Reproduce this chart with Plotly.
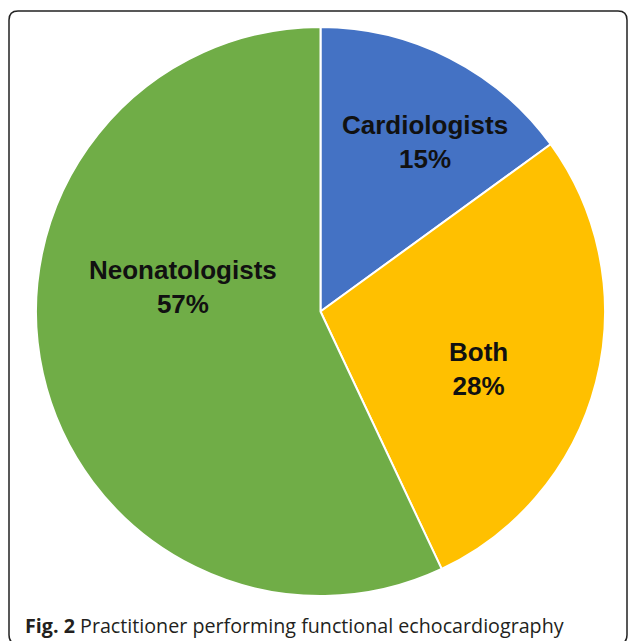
import plotly.graph_objects as go

# Data
labels = ["Cardiologists", "Both", "Neonatologists"]
values = [15, 28, 57]
colors = ["#4472C4", "#FFC000", "#70AD47"]
caption_bold = "Fig. 2"
caption_text = "Practitioner performing functional echocardiography"

W, H = 629, 641

def px(x):
    return x / W

def py(y):
    return 1 - y / H

# Pie geometry (pixels)
cx, cy, r = 320.5, 311.5, 284.5

fig = go.Figure()
fig.add_trace(go.Pie(
    labels=labels,
    values=values,
    marker=dict(colors=colors, line=dict(color="white", width=2)),
    sort=False,
    direction="clockwise",
    rotation=0,
    textinfo="none",
    hoverinfo="label+percent",
    domain=dict(x=[px(cx - r), px(cx + r)], y=[py(cy + r), py(cy - r)]),
    showlegend=False,
))

# Slice labels (positions in pixels)
label_pos = {"Cardiologists": (425, 142), "Both": (478, 369), "Neonatologists": (183, 287)}
total = sum(values)
for lab, val in zip(labels, values):
    x, y = label_pos[lab]
    fig.add_annotation(
        x=px(x), y=py(y), xref="paper", yref="paper",
        xanchor="center", yanchor="middle",
        text=f"<b>{lab}<br>{round(100 * val / total)}%</b>",
        showarrow=False, align="center",
        font=dict(family="Liberation Sans, Arial", size=26, color="#111111"),
    )

# Caption
fig.add_annotation(
    x=px(23), y=py(625), xref="paper", yref="paper",
    xanchor="left", yanchor="middle",
    text=f"<b>{caption_bold}</b> {caption_text}",
    showarrow=False,
    font=dict(family="Open Sans", size=19.7, color="#231f20"),
)

# Rounded border
x0, x1, y0, y1, rr = 9, 627, 11, 644, 9
path = (
    f"M {px(x0 + rr)} {py(y0)} L {px(x1 - rr)} {py(y0)} "
    f"Q {px(x1)} {py(y0)} {px(x1)} {py(y0 + rr)} "
    f"L {px(x1)} {py(y1 - rr)} Q {px(x1)} {py(y1)} {px(x1 - rr)} {py(y1)} "
    f"L {px(x0 + rr)} {py(y1)} Q {px(x0)} {py(y1)} {px(x0)} {py(y1 - rr)} "
    f"L {px(x0)} {py(y0 + rr)} Q {px(x0)} {py(y0)} {px(x0 + rr)} {py(y0)} Z"
)
fig.add_shape(type="path", path=path, xref="paper", yref="paper",
              line=dict(color="#222222", width=1.5))

fig.update_layout(
    width=W, height=H,
    margin=dict(l=0, r=0, t=0, b=0),
    paper_bgcolor="white", plot_bgcolor="white",
)

fig.write_html("out.html", config={"displayModeBar": False},
               post_script="document.body.style.margin='0';")
